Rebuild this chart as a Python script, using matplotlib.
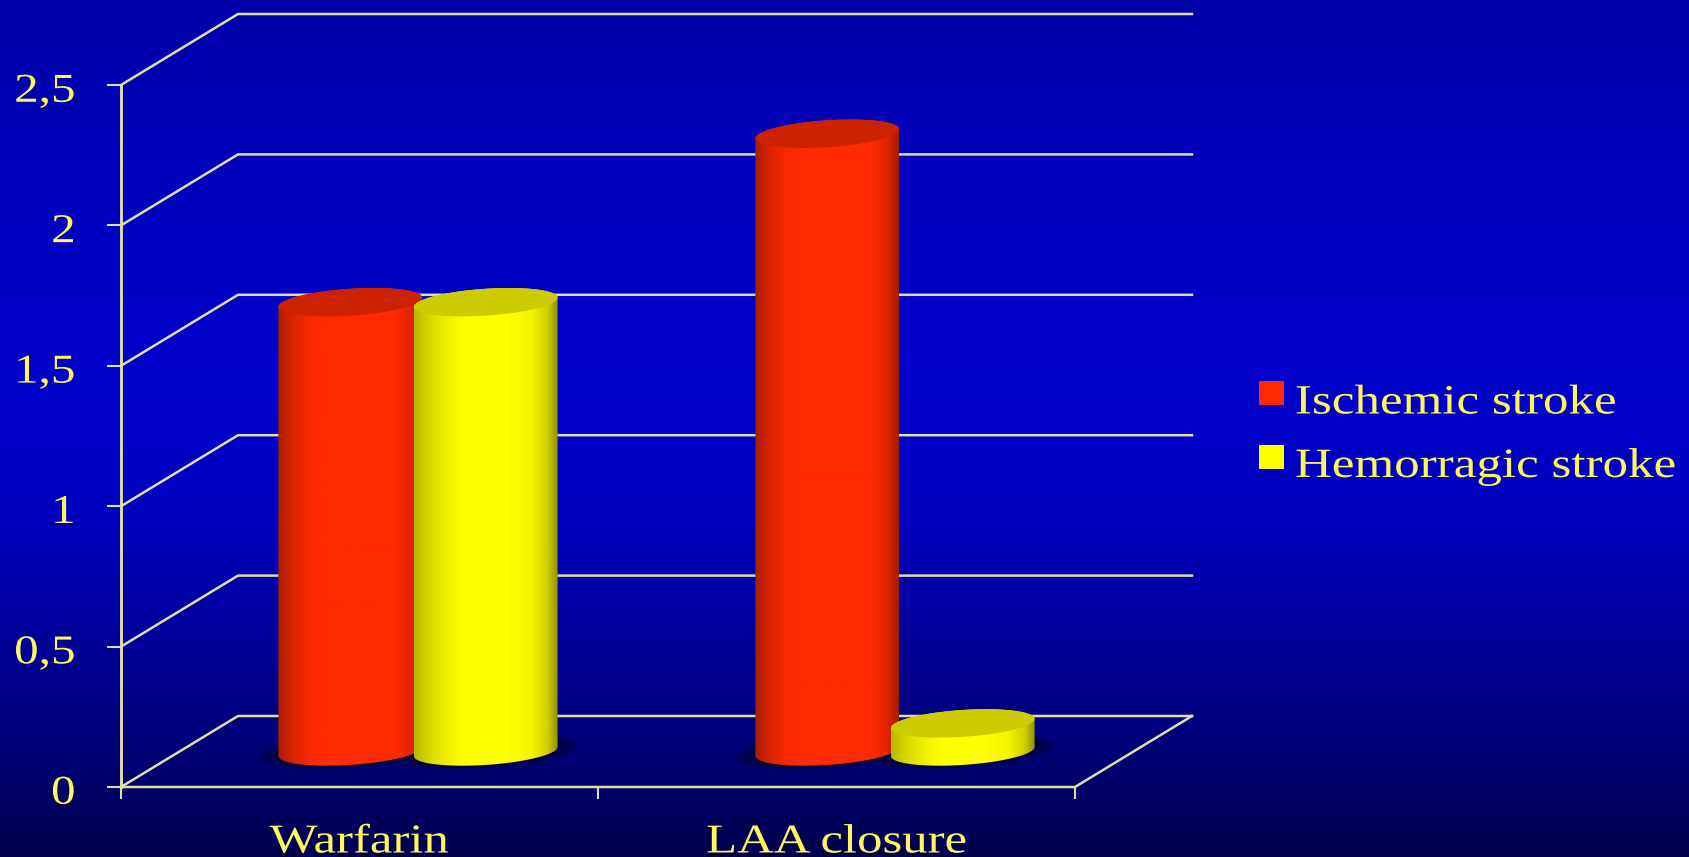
import numpy as np
import matplotlib
matplotlib.use('Agg')
import matplotlib.pyplot as plt
from matplotlib.colors import LinearSegmentedColormap
from matplotlib.legend_handler import HandlerPatch
from matplotlib.patches import Patch, Polygon, Rectangle
from matplotlib.patheffects import AbstractPathEffect
from matplotlib.transforms import Affine2D, ScaledTranslation

# Chart values
categories = ['Warfarin', 'LAA closure']
series_names = ['Ischemic stroke', 'Hemorragic stroke']
ischemic = [1.6, 2.2]
hemorragic = [1.6, 0.1]
y_ticks = [0, 0.5, 1, 1.5, 2, 2.5]
y_labels = ['0', '0,5', '1', '1,5', '2', '2,5']

W, H = 1689, 857
TEXT_COLOR = '#FFF65C'
LINE_COLOR = '#DEDEA8'
FONT = 'Liberation Serif'
TICK_STRETCH = 1.2
CATEGORY_STRETCH = 1.24
LEGEND_STRETCH = 1.225

# Oblique 3D box: shift of the back wall, in data units
DEPTH_X = 117 / 477
DEPTH_Y = 71 / 280.8
BAR_OFFSET = 0.142
BAR_A = 0.1425
BAR_R = 0.2

RED_STOPS = [(0, '#A81E00'), (0.1, '#D92400'), (0.22, '#FA2900'), (0.3, '#FF2A00'),
             (0.82, '#FF2A00'), (0.92, '#E02500'), (1, '#A01C00')]
YELLOW_STOPS = [(0, '#B8B800'), (0.12, '#DCDC00'), (0.28, '#F8F800'), (0.36, '#FFFF00'),
                (0.64, '#FFFF00'), (0.82, '#F4F400'), (0.93, '#D0D000'), (1, '#909000')]
RED = '#FF2A00'
YELLOW = '#FFFF00'
RED_TOP = '#CC2200'
YELLOW_TOP = '#CCCC00'


class StretchX(AbstractPathEffect):
    """Widen glyphs horizontally, keeping one side of the text in place."""

    def __init__(self, factor, anchor='left'):
        super().__init__()
        self.factor = factor
        self.anchor = anchor

    def draw_path(self, renderer, gc, tpath, affine, rgbFace=None):
        box = tpath.get_extents()
        x0 = {'left': box.x0, 'center': (box.x0 + box.x1) / 2, 'right': box.x1}[self.anchor]
        widen = Affine2D().translate(-x0, 0).scale(self.factor, 1).translate(x0, 0)
        renderer.draw_path(gc, tpath, widen + affine, rgbFace)


def raised_swatch(legend, orig_handle, xdescent, ydescent, width, height, fontsize):
    # legend squares sit a little above the text centre line
    return Rectangle((-xdescent, -ydescent + 3.9), width, height)


def ellipse_points(cx, cy, t):
    """Circle on the floor plane under the oblique projection."""
    x = cx + BAR_A * np.cos(t) + BAR_R * DEPTH_X * np.sin(t)
    y = cy + BAR_R * DEPTH_Y * np.sin(t)
    return np.column_stack([x, y])


def draw_shadow(ax, cx, cy):
    t = np.linspace(0, 2 * np.pi, 100)
    for grow in np.linspace(1.3, 1.0, 10):
        pts = ellipse_points(cx, cy, t)
        pts[:, 0] = cx + (pts[:, 0] - cx) * grow
        pts[:, 1] = cy + (pts[:, 1] - cy) * grow
        ax.add_patch(Polygon(pts, closed=True, fc='#000040', ec='none', alpha=0.2, zorder=2))


def draw_cylinder(ax, pos, value, stops, top_color, z):
    cx = pos + DEPTH_X / 2
    base = DEPTH_Y / 2
    top = base + value

    # silhouette tips are where x is extreme
    t0 = np.arctan2(BAR_R * DEPTH_X, BAR_A)
    bottom_arc = ellipse_points(cx, base, np.linspace(np.pi + t0, 2 * np.pi + t0, 60))
    top_arc = ellipse_points(cx, top, np.linspace(t0, np.pi + t0, 60))
    body = Polygon(np.vstack([bottom_arc, top_arc]), closed=True, fc='none', ec='none', zorder=z)
    ax.add_patch(body)

    half = np.hypot(BAR_A, BAR_R * DEPTH_X)
    cmap = LinearSegmentedColormap.from_list('shade', stops)
    img = ax.imshow(np.linspace(0, 1, 256)[None, :], cmap=cmap, aspect='auto',
                    extent=[cx - half, cx + half, base - 0.2, top + 0.2],
                    zorder=z, interpolation='bilinear')
    img.set_clip_path(body)

    t = np.linspace(0, 2 * np.pi, 120)
    ax.add_patch(Polygon(ellipse_points(cx, top, t), closed=True, fc=top_color, ec='none', zorder=z + 0.1))


fig = plt.figure(figsize=(W / 100, H / 100), dpi=100)

# Slide background, vertical blue gradient
bg = fig.add_axes([0, 0, 1, 1], zorder=0)
bg_cmap = LinearSegmentedColormap.from_list('bg', [
    (0.0, '#0000A8'), (0.2, '#0000BE'), (0.45, '#0000CC'), (0.6, '#0000C0'),
    (0.78, '#000090'), (0.9, '#000070'), (1.0, '#00004C')])
bg.imshow(np.linspace(0, 1, 512)[:, None], cmap=bg_cmap, aspect='auto', extent=[0, 1, 0, 1])
bg.axis('off')

ax = fig.add_axes([121 / W, 1 - 787 / H, (1075 - 121) / W, (787 - 85) / H], zorder=1)
ax.patch.set_alpha(0)

# Back wall lines and side wall diagonals
for v in y_ticks:
    ax.plot([0, DEPTH_X, 2 + DEPTH_X], [v, v + DEPTH_Y, v + DEPTH_Y],
            color=LINE_COLOR, lw=1.8, clip_on=False, zorder=1, solid_joinstyle='miter')
ax.plot([0, 2, 2 + DEPTH_X], [0, 0, DEPTH_Y], color=LINE_COLOR, lw=1.8, clip_on=False, zorder=1)
ax.plot([0, 0], [0, y_ticks[-1]], color=LINE_COLOR, lw=2.1, clip_on=False, zorder=1)

for i in range(len(categories)):
    draw_shadow(ax, i + 0.5 - BAR_OFFSET + DEPTH_X / 2, DEPTH_Y / 2)
    draw_shadow(ax, i + 0.5 + BAR_OFFSET + DEPTH_X / 2, DEPTH_Y / 2)

for i in range(len(categories)):
    draw_cylinder(ax, i + 0.5 - BAR_OFFSET, ischemic[i], RED_STOPS, RED_TOP, 3 + i * 2)
    draw_cylinder(ax, i + 0.5 + BAR_OFFSET, hemorragic[i], YELLOW_STOPS, YELLOW_TOP, 4 + i * 2)

ax.set_xlim(0, 2)
ax.set_ylim(0, y_ticks[-1])
for side in ax.spines.values():
    side.set_visible(False)

ax.set_yticks(y_ticks)
ax.set_yticklabels(y_labels, fontfamily=FONT, fontsize=29.5, color=TEXT_COLOR)
ax.tick_params(axis='y', length=10, width=1.5, color=LINE_COLOR, pad=23)
ax.set_xticks([0, 1, 2])
ax.set_xticklabels([])
ax.tick_params(axis='x', length=8.5, width=1.5, color=LINE_COLOR)
ax.set_xticks([0.5, 1.5], minor=True)
ax.set_xticklabels(categories, minor=True, fontfamily=FONT, fontsize=29.5, color=TEXT_COLOR)
ax.tick_params(axis='x', which='minor', length=0, pad=27)

nudge_down = ScaledTranslation(0, -2 / 72, fig.dpi_scale_trans)
for label in ax.get_yticklabels():
    label.set_transform(label.get_transform() + nudge_down)
    label.set_path_effects([StretchX(TICK_STRETCH, 'right')])
for label in ax.get_xticklabels(minor=True):
    label.set_path_effects([StretchX(CATEGORY_STRETCH, 'center')])

handles = [Patch(fc=RED, ec='none'), Patch(fc=YELLOW, ec='none')]
leg = ax.legend(handles, series_names, loc='upper left', bbox_to_anchor=(1259 / W, 1 - 384 / H),
                bbox_transform=fig.transFigure, frameon=False, borderpad=0, borderaxespad=0,
                prop={'family': FONT, 'size': 30}, labelcolor=TEXT_COLOR,
                handlelength=0.6, handleheight=0.5, handletextpad=0.27, labelspacing=0.6,
                handler_map={Patch: HandlerPatch(patch_func=raised_swatch)})
for label in leg.get_texts():
    label.set_path_effects([StretchX(LEGEND_STRETCH, 'left')])

fig.savefig('out.png', dpi=100, facecolor='#0000A8')
